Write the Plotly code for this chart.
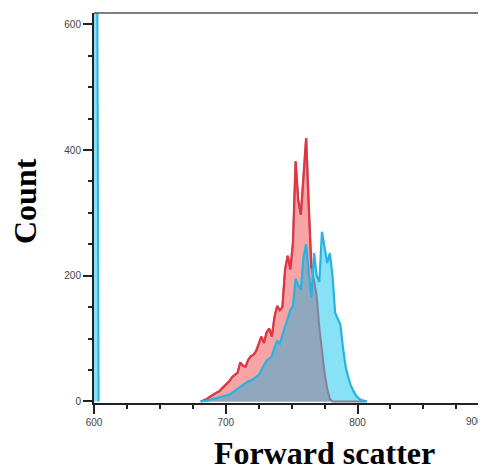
import numpy as np
import plotly.graph_objects as go

# Forward scatter bin centres (main population)
fsc = [681, 683, 685, 687, 689, 691, 693, 695, 697, 699, 701, 703, 705, 707, 709,
       711, 713, 715, 717, 719, 721, 723, 725, 727, 729, 731, 733, 735, 737, 739,
       741, 743, 745, 747, 749, 751, 753, 755, 757, 759, 761, 763, 765, 767, 769,
       771, 773, 775, 777, 779, 781, 783, 785, 787, 789, 791, 793, 795, 797, 799,
       801, 803, 805, 807]
# Red sample counts
red_counts = [0, 1, 3, 6, 9, 11, 14, 16, 20, 24, 28, 33, 39, 42, 46,
              62, 57, 55, 66, 72, 74, 80, 90, 103, 93, 110, 116, 103, 135, 152,
              145, 150, 210, 232, 210, 252, 382, 320, 297, 360, 419, 310, 212, 192, 168,
              118, 76, 45, 20, 4, 0, 0, 0, 0, 0, 0, 0, 0, 0, 0,
              0, 0, 0, 0]
# Cyan sample counts
cyan_counts = [0, 0, 1, 2, 3, 4, 5, 7, 8, 9, 10, 11, 14, 17, 20,
               24, 27, 30, 32, 33, 36, 39, 42, 50, 58, 65, 68, 72, 86, 96,
               92, 105, 118, 130, 145, 152, 195, 185, 178, 230, 250, 205, 165, 236, 200,
               190, 270, 245, 220, 236, 200, 141, 132, 122, 85, 55, 38, 25, 16, 9,
               5, 2, 1, 0]
# Off-scale events at the edges of the cyan sample
edge_left_x = [600, 601.2, 603.5]
edge_left_y = [1500, 1500, 0]
edge_right_x = [895.9, 896.4]
edge_right_y = [0, 1500]

x_ticks = [600, 700, 800]
y_ticks = [0, 200, 400, 600]
y_tick_text = ["0", "200", "400", "600"]
x_range = [600, 897.5]
edge_tick_label = "900"

red = np.array(red_counts, dtype=float)
cyan = np.array(cyan_counts, dtype=float)
overlap = np.minimum(red, cyan)
red_visible = np.where(red >= cyan, red, np.nan)

PINK = "#f7a4a6"
LIGHTCYAN = "#88e2f6"
OVERLAP = "#8fa8bd"
RED = "#e3343f"
CYAN = "#27b3e2"
HIDDEN_RED = "#85809b"

fig = go.Figure()
fig.add_trace(go.Scatter(x=fsc, y=cyan, mode="lines", line=dict(width=0),
                         fill="tozeroy", fillcolor=LIGHTCYAN, hoverinfo="skip"))
fig.add_trace(go.Scatter(x=edge_left_x, y=edge_left_y, mode="lines", line=dict(width=0),
                         fill="tozeroy", fillcolor=LIGHTCYAN, hoverinfo="skip"))
fig.add_trace(go.Scatter(x=fsc, y=red, mode="lines", line=dict(width=0),
                         fill="tozeroy", fillcolor=PINK, hoverinfo="skip"))
fig.add_trace(go.Scatter(x=fsc, y=overlap, mode="lines", line=dict(width=0),
                         fill="tozeroy", fillcolor=OVERLAP, hoverinfo="skip"))
fig.add_trace(go.Scatter(x=fsc, y=red, mode="lines", line=dict(color=HIDDEN_RED, width=2)))
fig.add_trace(go.Scatter(x=fsc, y=red_visible, mode="lines", connectgaps=False,
                         line=dict(color=RED, width=2.2)))
fig.add_trace(go.Scatter(x=fsc, y=cyan, mode="lines", line=dict(color=CYAN, width=2.2)))
fig.add_trace(go.Scatter(x=edge_left_x[1:], y=edge_left_y[1:], mode="lines",
                         line=dict(color=CYAN, width=2)))
fig.add_trace(go.Scatter(x=edge_right_x, y=edge_right_y, mode="lines",
                         line=dict(color="#a6e6f7", width=1.5)))

tickfont = dict(family="Liberation Sans, Arial, sans-serif", size=10, color="#444444")
axis_common = dict(showline=True, linecolor="#222222", linewidth=2, ticks="outside",
                   ticklen=9, tickwidth=2, tickcolor="#222222", showgrid=False,
                   zeroline=False, tickfont=tickfont)
title_font = dict(family="Liberation Serif, Times New Roman, serif", size=32, color="black")

# The page body adds an 8 px offset, so the figure is sized to end at the window edge.
fig.update_layout(
    width=478, height=465,
    margin=dict(l=86, r=0, t=5, b=70, autoexpand=False),
    paper_bgcolor="white", plot_bgcolor="white",
    showlegend=False,
    xaxis=dict(range=x_range, tickvals=x_ticks,
               minor=dict(ticks="outside", ticklen=4, tickwidth=1.5, dtick=25,
                          tickcolor="#222222", showgrid=False),
               **axis_common),
    yaxis=dict(range=[-2.5, 618], tickvals=y_ticks, ticktext=y_tick_text,
               minor=dict(ticks="outside", ticklen=4, tickwidth=1.5, dtick=50,
                          tickcolor="#222222", showgrid=False),
               **axis_common),
    shapes=[dict(type="line", xref="paper", yref="paper", x0=0, x1=1, y0=1, y1=1,
                 line=dict(color="#555555", width=1.5))],
    annotations=[
        dict(text=edge_tick_label, x=1, y=0, xref="paper", yref="paper",
             showarrow=False, xanchor="right", yanchor="top", yshift=-11, xshift=-1,
             font=tickfont),
        dict(text="<b>Forward scatter</b>", x=0.589, y=-0.177, xref="paper", yref="paper",
             showarrow=False, xanchor="center", yanchor="bottom", borderpad=0,
             font=title_font),
        dict(text="<b>Count</b>", x=-0.176, y=0.518, xref="paper", yref="paper",
             showarrow=False, textangle=-90, xanchor="center", yanchor="middle",
             font=title_font),
    ],
)

fig.write_html("out.html")
